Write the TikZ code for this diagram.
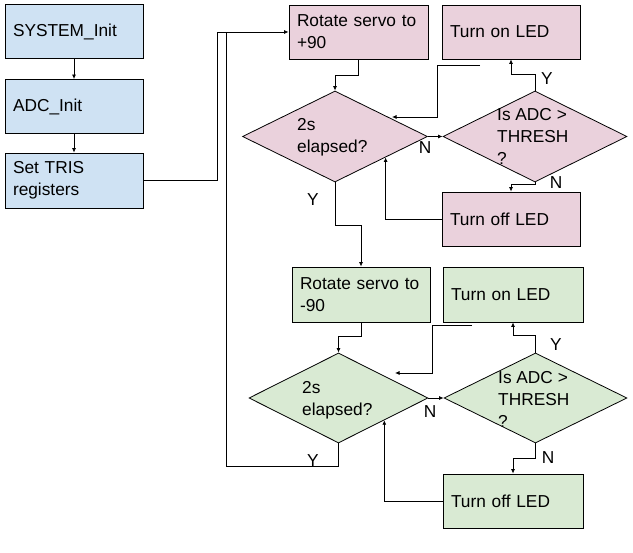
\documentclass[tikz,border=0pt]{standalone}
\usepackage{fontspec}
\setmainfont{Liberation Sans}
\usetikzlibrary{arrows.meta,calc,shapes.geometric}
\definecolor{bluefill}{HTML}{CFE2F3}
\definecolor{pinkfill}{HTML}{EAD1DC}
\definecolor{greenfill}{HTML}{D9EAD3}
\begin{document}
\begin{tikzpicture}[x=1pt,y=-1pt,
  txt/.style={font=\fontsize{17.3}{22}\selectfont},
  box/.style={txt, draw=black, line width=0.8pt, rectangle, minimum height=54pt,
              inner xsep=8pt, inner ysep=2pt, align=left},
  dia/.style={draw=black, line width=0.8pt, diamond, inner sep=0pt},
  lab/.style={txt, inner sep=0pt},
  dtxt/.style={txt, inner sep=0pt, align=left, anchor=west},
  conn/.style={line width=0.8pt, black},
  arr/.style={conn, -{Latex[length=4.5pt,width=4pt]}}]
\useasboundingbox (0,0) rectangle (633,553);
% blue column
\node[box, fill=bluefill, text width=122pt] (sys)  at (74,31.5)  {SYSTEM\_Init};
\node[box, fill=bluefill, text width=122pt] (adc)  at (74,106.5) {ADC\_Init};
\node[box, fill=bluefill, text width=122pt, minimum height=55pt] (tris) at (74,180.5) {Set TRIS\\registers};
% pink section
\node[box, fill=pinkfill, text width=123pt] (rot1) at (358.5,32) {Rotate servo to\\+90};
\node[box, fill=pinkfill, text width=122pt] (on1)  at (511,32)   {Turn on LED};
\node[dia, fill=pinkfill, minimum width=185pt, minimum height=91pt] (d1) at (335,136.5) {};
\node[dia, fill=pinkfill, minimum width=184pt, minimum height=91pt] (d2) at (535,136.5) {};
\node[box, fill=pinkfill, text width=122pt] (off1) at (511,219)  {Turn off LED};
\node[dtxt] (t1) at (297,137) {2s\\elapsed?};
\node[dtxt] (t2) at (497,136) {Is ADC >\\THRESH\\?};
% green section
\node[box, fill=greenfill, text width=122pt, minimum height=55pt] (rot2) at (361,294.5) {Rotate servo to\\-90};
\node[box, fill=greenfill, text width=124pt, minimum height=55pt] (on2)  at (513,294.5) {Turn on LED};
\node[dia, fill=greenfill, minimum width=179pt, minimum height=90pt] (d3) at (338.5,398) {};
\node[dia, fill=greenfill, minimum width=183pt, minimum height=90pt] (d4) at (535.5,398) {};
\node[box, fill=greenfill, text width=124pt] (off2) at (513,501)  {Turn off LED};
\node[dtxt] (t3) at (302,400) {2s\\elapsed?};
\node[dtxt] (t4) at (498,399) {Is ADC >\\THRESH\\?};
% blue connectors
\draw[arr] (sys) -- (adc);
\draw[arr] (adc) -- (tris);
\coordinate (j) at (226,32);
\draw[arr] (tris.east) -- ++(74,0) |- (rot1.west);
% pink connectors
\draw[arr] (rot1.south) -- ++(0,16) -| (d1.north);
\draw[arr] (d1.east) -- (d2.west);
\draw[arr] (d2.north) -- ++(0,-16) -| (on1.south);
\draw[arr] (d2.south) -- ++(0,2) -| (off1.north);
\draw[arr] (off1.west) -| ($(d1.east)!0.455!(d1.south)$);
\coordinate (f1a) at (480,65);
\coordinate (f1b) at (392,117);
\draw[arr] (f1a) -- ++(-43,0) |- (f1b);
\draw[arr] (d1.south) -- ++(0,43) -| (rot2.north);
% green connectors
\draw[arr] (rot2.south) -- ++(0,14) -| (d3.north);
\draw[arr] (d3.east) -- (d4.west);
\draw[arr] (d4.north) -- ++(0,-17) -| (on2.south);
\draw[arr] (d4.south) -- ++(0,15) -| (off2.north);
\draw[arr] (off2.west) -| ($(d3.east)!0.49!(d3.south)$);
\coordinate (f2a) at (472,325);
\coordinate (f2b) at (395,373);
\draw[arr] (f2a) -- ++(-40,0) |- (f2b);
\draw[conn] (d3.south) -- ++(0,23) -| (j);
% labels
\node[lab] (n1) at (425,148) {N};
\node[lab] (y1) at (547,79)  {Y};
\node[lab] (n2) at (556,183) {N};
\node[lab] (y2) at (313,200) {Y};
\node[lab] (n3) at (430,412) {N};
\node[lab] (y3) at (556,345) {Y};
\node[lab] (n4) at (548,458) {N};
\node[lab] (y4) at (313,461) {Y};
\end{tikzpicture}
\end{document}
